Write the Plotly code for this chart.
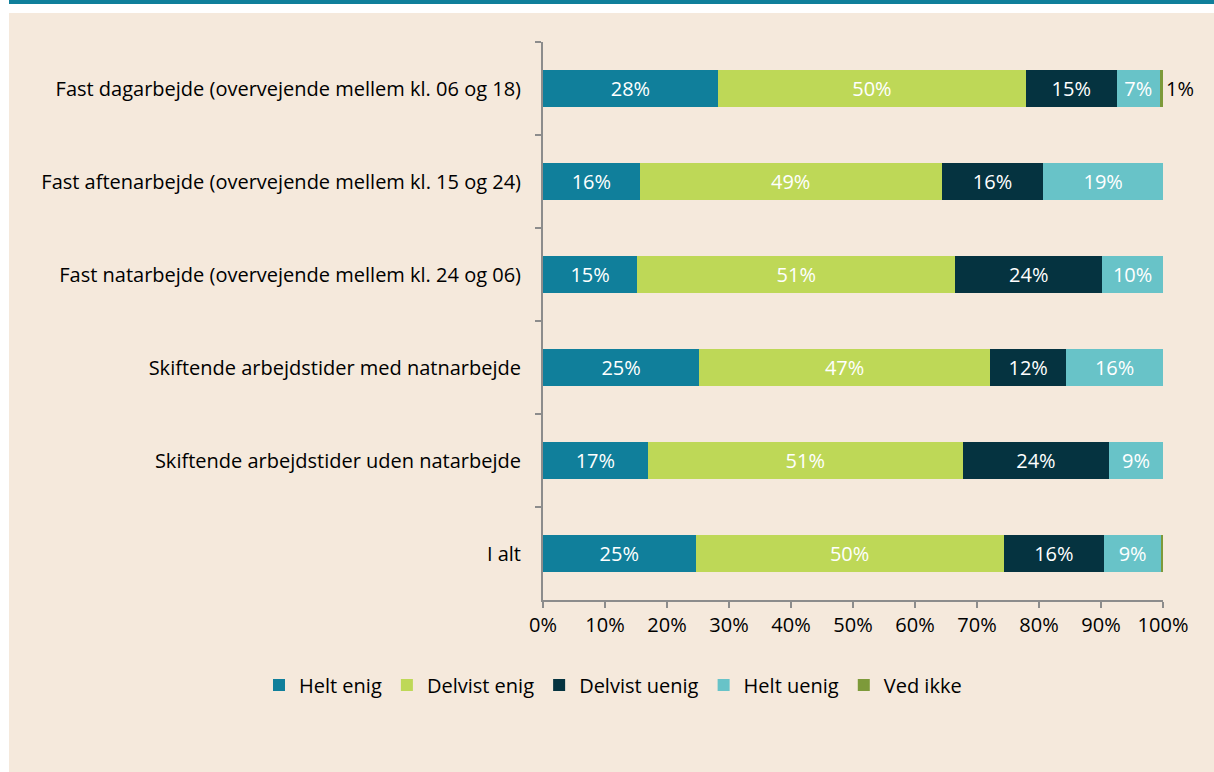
import plotly.graph_objects as go

categories = [
    "Fast dagarbejde (overvejende mellem kl. 06 og 18)",
    "Fast aftenarbejde (overvejende mellem kl. 15 og 24)",
    "Fast natarbejde (overvejende mellem kl. 24 og 06)",
    "Skiftende arbejdstider med natnarbejde",
    "Skiftende arbejdstider uden natarbejde",
    "I alt",
]
helt_enig = [28.2, 15.6, 15.2, 25.2, 16.9, 24.6]
delvist_enig = [49.7, 48.7, 51.3, 46.9, 50.8, 49.7]
delvist_uenig = [14.6, 16.4, 23.7, 12.3, 23.6, 16.2]
helt_uenig = [7.0, 19.3, 9.8, 15.6, 8.7, 9.2]
ved_ikke = [0.5, 0.0, 0.0, 0.0, 0.0, 0.3]

series = [
    ("Helt enig", helt_enig, "#107F9B", "white"),
    ("Delvist enig", delvist_enig, "#BED857", "white"),
    ("Delvist uenig", delvist_uenig, "#053340", "white"),
    ("Helt uenig", helt_uenig, "#68C3C8", "white"),
    ("Ved ikke", ved_ikke, "#7D9A3A", "black"),
]

FONT = "Open Sans"
FS = 20
fig = go.Figure()
for name, vals, color, tcol in series:
    last = name == "Ved ikke"
    if last:
        texts = ["1%" if v >= 0.5 else "" for v in vals]
    else:
        texts = [f"{round(v)}%" if v >= 0.5 else "" for v in vals]
    fig.add_trace(go.Bar(
        y=categories, x=vals, name=name, orientation="h",
        marker=dict(color=color, line=dict(width=0)),
        text=texts,
        textposition="outside" if last else "inside",
        insidetextanchor="middle",
        textfont=dict(color=tcol, size=FS, family=FONT),
        cliponaxis=False,
        hoverinfo="skip",
    ))

W, H = 1214, 772
L, R, T, B = 543, 51, 42, 172
pw, ph = W - L - R, H - T - B

def px(x):
    return (x - L) / pw

def py(y):
    return (H - B - y) / ph

fig.add_shape(type="rect", xref="paper", yref="paper", layer="below",
              x0=px(9), x1=px(W), y0=py(H), y1=py(13),
              fillcolor="#F5E9DC", line=dict(width=0))
fig.add_shape(type="rect", xref="paper", yref="paper", layer="below",
              x0=px(9), x1=px(W), y0=py(4), y1=py(0),
              fillcolor="#107F9B", line=dict(width=0))

fig.update_layout(
    width=W, height=H,
    margin=dict(l=L, r=R, t=T, b=B, autoexpand=False),
    barmode="stack", bargap=0.6,
    paper_bgcolor="white", plot_bgcolor="rgba(0,0,0,0)",
    font=dict(family=FONT, size=FS, color="black"),
    showlegend=True,
    legend=dict(orientation="h", x=px(259), xanchor="left",
                y=py(685), yanchor="middle",
                font=dict(size=FS, family=FONT), traceorder="normal",
                bgcolor="rgba(0,0,0,0)"),
    xaxis=dict(range=[0, 100], dtick=10, ticksuffix="%", showgrid=False,
               zeroline=False, showline=True, linecolor="#8C8C8C", linewidth=2,
               ticks="outside", ticklen=6, tickcolor="#8C8C8C", tickwidth=2,
               tickfont=dict(size=FS, family=FONT), fixedrange=True),
    yaxis=dict(categoryorder="array", categoryarray=categories,
               autorange="reversed", showgrid=False, zeroline=False,
               showline=True, linecolor="#8C8C8C", linewidth=2,
               ticks="outside", tickson="boundaries", ticklen=6,
               tickcolor="#8C8C8C", tickwidth=2, ticklabelstandoff=16,
               tickfont=dict(size=FS, family=FONT), fixedrange=True),
)

fig.write_html("out.html", config={"displayModeBar": False},
               post_script="document.body.style.margin='0';document.body.style.overflow='hidden';")
